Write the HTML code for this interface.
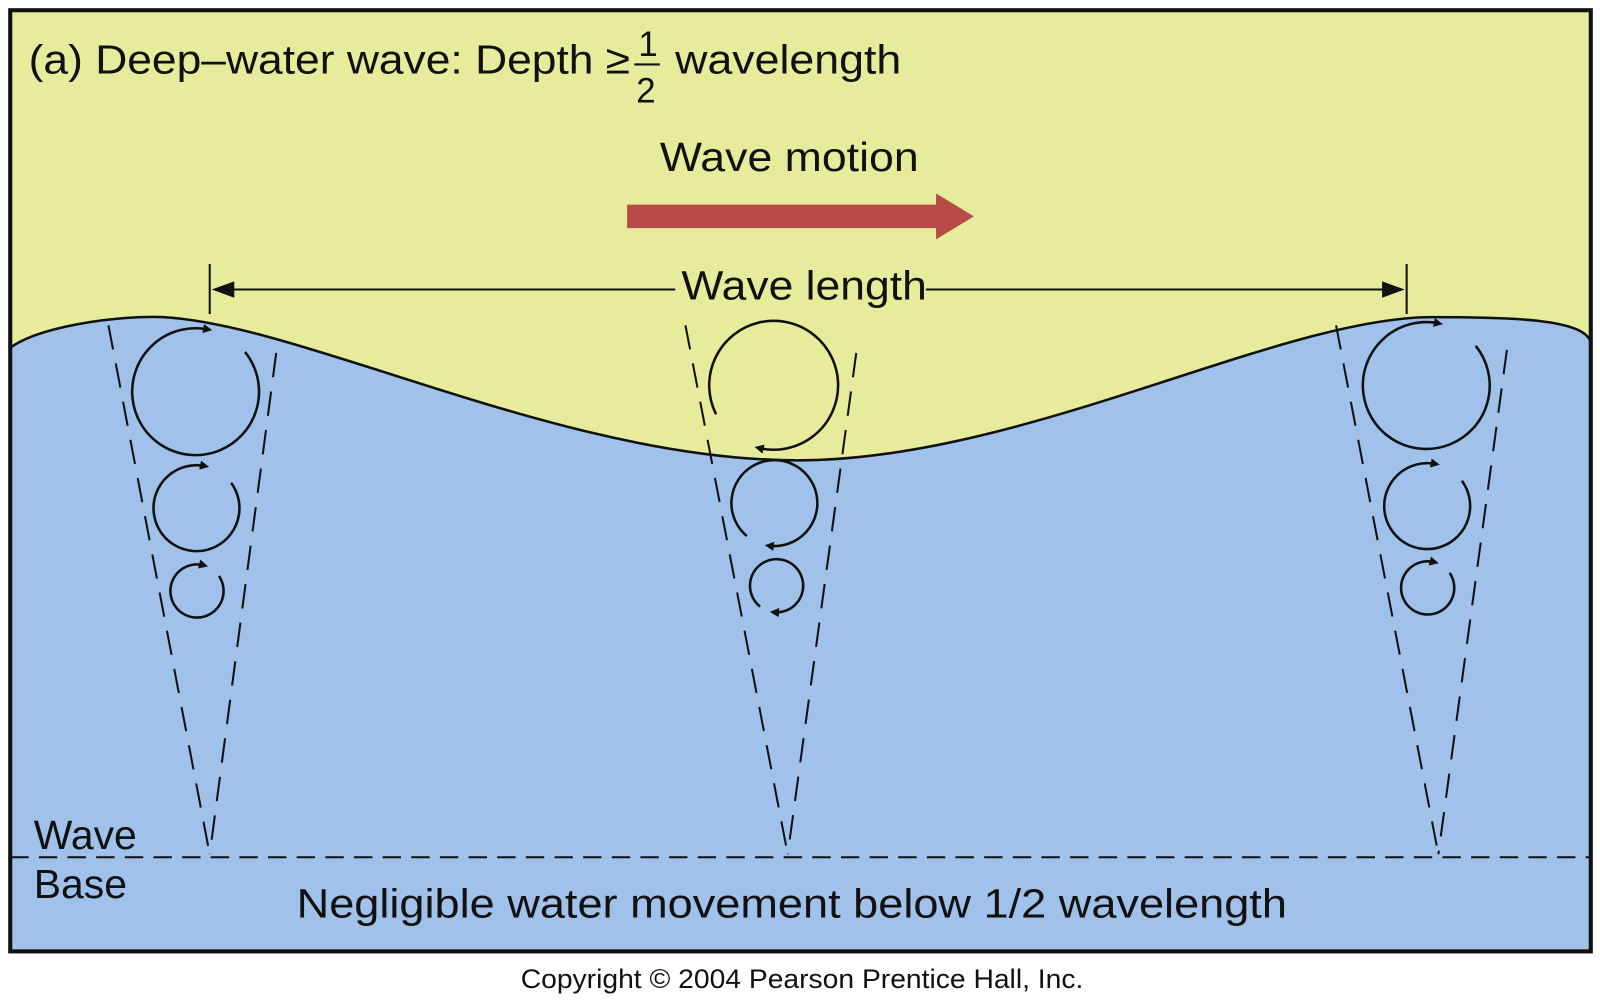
<!DOCTYPE html>
<html><head><meta charset="utf-8"><style>
html,body{margin:0;padding:0;background:#fff;}
svg{display:block;}
text{font-family:"Liberation Sans",Arial,sans-serif;fill:#111;}
</style></head><body>
<svg width="1600" height="1001" viewBox="0 0 1564 978.5" preserveAspectRatio="none" xmlns="http://www.w3.org/2000/svg">
<defs>
<marker id="ar" viewBox="0 0 10 10" refX="5" refY="5" markerWidth="9" markerHeight="9" markerUnits="userSpaceOnUse" orient="auto">
<path d="M0,0 L10,5 L0,10 z" fill="#111"/></marker>
</defs>
<rect x="10" y="10" width="1545" height="920" fill="#e6ec9c"/>
<path d="M10,340 C40,318 120,308 160,310 C300,318 550,450 780,450 C1000,450 1250,310 1400,310 C1480,310 1550,312 1555,335 L1555,930 L10,930 Z" fill="#9fc1ea"/>
<path d="M10,340 C40,318 120,308 160,310 C300,318 550,450 780,450 C1000,450 1250,310 1400,310 C1480,310 1550,312 1555,335" fill="none" stroke="#111" stroke-width="2.5"/>
<rect x="10" y="10" width="1545" height="920" fill="none" stroke="#111" stroke-width="4"/>
<line x1="10" y1="838" x2="1555" y2="838" stroke="#111" stroke-width="2" stroke-dasharray="18,10"/>
<g stroke="#111" stroke-width="2" stroke-dasharray="24,14" fill="none">
<line x1="106" y1="318" x2="205" y2="835"/><line x1="270" y1="345" x2="205" y2="835"/>
<line x1="670" y1="318" x2="770" y2="835"/><line x1="837" y1="345" x2="770" y2="835"/>
<line x1="1306" y1="318" x2="1406" y2="835"/><line x1="1473" y1="342" x2="1406" y2="835"/>
</g>
<text x="28" y="72" font-size="40" textLength="588" lengthAdjust="spacingAndGlyphs">(a) Deep–water wave: Depth ≥</text>
<text x="624" y="55" font-size="34">1</text>
<line x1="620" y1="63" x2="645" y2="63" stroke="#111" stroke-width="2"/>
<text x="622" y="100" font-size="34">2</text>
<text x="660" y="72" font-size="40" textLength="221" lengthAdjust="spacingAndGlyphs">wavelength</text>
<text x="645" y="167" font-size="40" textLength="253" lengthAdjust="spacingAndGlyphs">Wave motion</text>
<path d="M613,200 L915,200 L915,189 L952,211.5 L915,234 L915,223 L613,223 Z" fill="#b84a47"/>
<line x1="205" y1="258" x2="205" y2="307" stroke="#111" stroke-width="2"/>
<line x1="1375" y1="258" x2="1375" y2="307" stroke="#111" stroke-width="2"/>
<line x1="215" y1="283" x2="660" y2="283" stroke="#111" stroke-width="2"/>
<line x1="905" y1="283" x2="1365" y2="283" stroke="#111" stroke-width="2"/>
<path d="M207,283 l22,-8 l0,16z" fill="#111"/>
<path d="M1373,283 l-22,-8 l0,16z" fill="#111"/>
<text x="666" y="293" font-size="40" textLength="240" lengthAdjust="spacingAndGlyphs">Wave length</text>
<g fill="none" stroke="#111" stroke-width="2.5">
<path d="M239.5,344 A62,62 0 1 1 203,322" marker-end="url(#ar)"/>
<path d="M226,472 A42,42 0 1 1 200,455.5" marker-end="url(#ar)"/>
<path d="M214,563 A26,26 0 1 1 199,552.5" marker-end="url(#ar)"/>
<path d="M700,405 A63,63 0 1 1 742,438" marker-end="url(#ar)"/>
<path d="M730,524 A42,42 0 1 1 752,533.5" marker-end="url(#ar)"/>
<path d="M743,593 A26,26 0 1 1 757,598.5" marker-end="url(#ar)"/>
<path d="M1442.5,338 A62,62 0 1 1 1406,316" marker-end="url(#ar)"/>
<path d="M1429,470 A42,42 0 1 1 1403,453.5" marker-end="url(#ar)"/>
<path d="M1417,560 A26,26 0 1 1 1402,549.5" marker-end="url(#ar)"/>
</g>
<text x="33" y="830" font-size="40">Wave</text>
<text x="33" y="878" font-size="40">Base</text>
<text x="290" y="897" font-size="40" textLength="968" lengthAdjust="spacingAndGlyphs">Negligible water movement below 1/2 wavelength</text>
<text x="509" y="966" font-size="26" textLength="550" lengthAdjust="spacingAndGlyphs">Copyright © 2004 Pearson Prentice Hall, Inc.</text>
</svg>
</body></html>
